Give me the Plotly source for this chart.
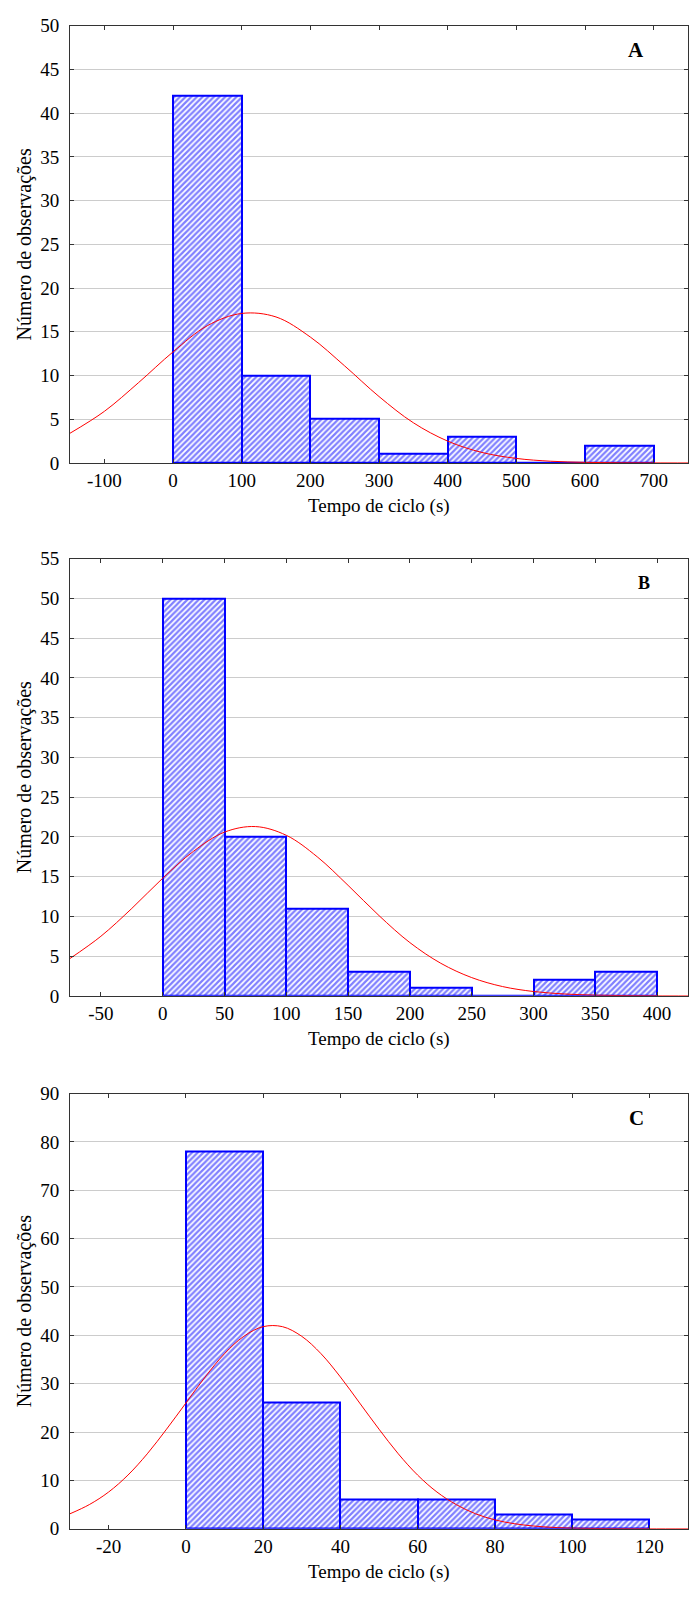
import plotly.graph_objects as go

W, H = 693, 1598

# ---------------- data ----------------
# Panel A
a_bin_start = [0, 100, 200, 300, 400, 500, 600]
a_bin_width = 100
a_counts = [42, 10, 5, 1, 3, 0, 2]
a_curve_x = [-150, -100, -50, 0, 50, 100, 150, 200, 250, 300, 350, 400, 450, 500, 550, 600, 650, 700, 750]
a_curve_y = [3.4, 5.9, 9.2, 12.7, 15.7, 17.1, 16.7, 14.4, 11.1, 7.6, 4.6, 2.5, 1.2, 0.52, 0.2, 0.07, 0.02, 0.005, 0.001]
a_xticks = [-100, 0, 100, 200, 300, 400, 500, 600, 700]
a_yticks = [0, 5, 10, 15, 20, 25, 30, 35, 40, 45, 50]

# Panel B
b_bin_start = [0, 50, 100, 150, 200, 250, 300, 350]
b_bin_width = 50
b_counts = [50, 20, 11, 3, 1, 0, 2, 3]
b_curve_x = [-75, -50, -25, 0, 25, 50, 75, 100, 125, 150, 175, 200, 225, 250, 275, 300, 325, 350, 375, 400, 425]
b_curve_y = [4.7, 7.5, 11.0, 14.8, 18.2, 20.6, 21.3, 20.2, 17.5, 13.9, 10.1, 6.7, 4.1, 2.3, 1.17, 0.55, 0.24, 0.09, 0.03, 0.01, 0.003]
b_xticks = [-50, 0, 50, 100, 150, 200, 250, 300, 350, 400]
b_yticks = [0, 5, 10, 15, 20, 25, 30, 35, 40, 45, 50, 55]

# Panel C
c_bin_start = [0, 20, 40, 60, 80, 100]
c_bin_width = 20
c_counts = [78, 26, 6, 6, 3, 2]
c_curve_x = [-30, -25, -20, -15, -10, -5, 0, 5, 10, 15, 20, 25, 30, 35, 40, 45, 50, 55, 60, 65, 70, 75, 80, 85, 90, 95, 100, 110, 120, 130]
c_curve_y = [3.1, 5.0, 7.6, 11.1, 15.5, 20.6, 26.0, 31.4, 36.2, 39.8, 41.8, 41.8, 39.8, 36.2, 31.4, 26.0, 20.6, 15.5, 11.1, 7.6, 5.0, 3.1, 1.84, 1.05, 0.57, 0.29, 0.14, 0.03, 0.005, 0.001]
c_xticks = [-20, 0, 20, 40, 60, 80, 100, 120]
c_yticks = [0, 10, 20, 30, 40, 50, 60, 70, 80, 90]

panel_labels = ["A", "B", "C"]
x_title = "Tempo de ciclo (s)"
y_title = "Número de observações"

# ---------------- layout geometry ----------------
FONT = "Liberation Serif, Times New Roman, Times, serif"
x_left_px, x_right_px = 70, 688
panels = [
    dict(starts=a_bin_start, width=a_bin_width, counts=a_counts, cx=a_curve_x, cy=a_curve_y,
         xt=a_xticks, yt=a_yticks, xr=[-150, 750], yr=[0, 50], top=16, bottom=459),
    dict(starts=b_bin_start, width=b_bin_width, counts=b_counts, cx=b_curve_x, cy=b_curve_y,
         xt=b_xticks, yt=b_yticks, xr=[-75, 425], yr=[0, 55], top=556, bottom=999),
    dict(starts=c_bin_start, width=c_bin_width, counts=c_counts, cx=c_curve_x, cy=c_curve_y,
         xt=c_xticks, yt=c_yticks, xr=[-30, 130], yr=[0, 90], top=1098, bottom=1539),
]

fig = go.Figure()
annotations = []
layout_axes = {}

for i, p in enumerate(panels):
    n = "" if i == 0 else str(i + 1)
    xa, ya = "x" + n, "y" + n
    centers = [s + p["width"] / 2 for s in p["starts"]]
    fig.add_trace(go.Bar(
        x=centers, y=p["counts"], width=[p["width"]] * len(centers),
        xaxis=xa, yaxis=ya,
        marker=dict(color="white",
                    line=dict(color="#0000ff", width=2),
                    pattern=dict(shape="/", fgcolor="#0000ff", bgcolor="white",
                                 size=4, solidity=0.55)),
        showlegend=False,
    ))
    fig.add_trace(go.Scatter(
        x=p["cx"], y=p["cy"], mode="lines", line=dict(color="#ff0000", width=1, shape="spline"),
        xaxis=xa, yaxis=ya, showlegend=False, cliponaxis=True,
    ))
    ydom = [1 - p["bottom"] / H, 1 - p["top"] / H]
    layout_axes["xaxis" + n] = dict(
        domain=[x_left_px / W, x_right_px / W], range=p["xr"], anchor=ya,
        tickmode="array", tickvals=p["xt"], ticktext=[str(v) for v in p["xt"]],
        ticks="inside", ticklen=4, tickcolor="#333",
        showline=True, linecolor="#333", linewidth=1, mirror="ticks",
        showgrid=False, zeroline=False,
        tickfont=dict(family=FONT, size=19, color="black"),
    )
    layout_axes["yaxis" + n] = dict(
        domain=ydom, range=p["yr"], anchor=xa,
        tickmode="array", tickvals=p["yt"], ticktext=[str(v) for v in p["yt"]],
        ticks="inside", ticklen=4, tickcolor="#333", ticklabelstandoff=6,
        showline=True, linecolor="#333", linewidth=1, mirror="ticks",
        showgrid=True, gridcolor="#cccccc", gridwidth=1, zeroline=False,
        tickfont=dict(family=FONT, size=19, color="black"),
    )
    # axis titles and panel letters
    annotations.append(dict(
        text=x_title, xref="paper", yref="paper",
        x=(x_left_px + x_right_px) / 2 / W, y=1 - (p["bottom"] + 44) / H,
        showarrow=False, font=dict(family=FONT, size=19, color="black"),
        xanchor="center", yanchor="middle"))
    annotations.append(dict(
        text=y_title, xref="paper", yref="paper",
        x=24 / W, y=1 - (p["top"] + p["bottom"]) / 2 / H, textangle=-90,
        showarrow=False, font=dict(family=FONT, size=20, color="black"),
        xanchor="center", yanchor="middle"))
    annotations.append(dict(
        text="<b>" + panel_labels[i] + "</b>", xref="paper", yref="paper",
        x=(636 if i != 1 else 644) / W, y=1 - (p["top"] + 25) / H,
        showarrow=False, font=dict(family=FONT, size=21 if i != 1 else 18, color="black"),
        xanchor="center", yanchor="middle"))

fig.update_layout(
    width=W, height=H,
    margin=dict(l=0, r=0, t=0, b=0),
    paper_bgcolor="white", plot_bgcolor="white",
    bargap=0, barmode="overlay",
    annotations=annotations,
    **layout_axes,
)

fig.write_html("out.html")
